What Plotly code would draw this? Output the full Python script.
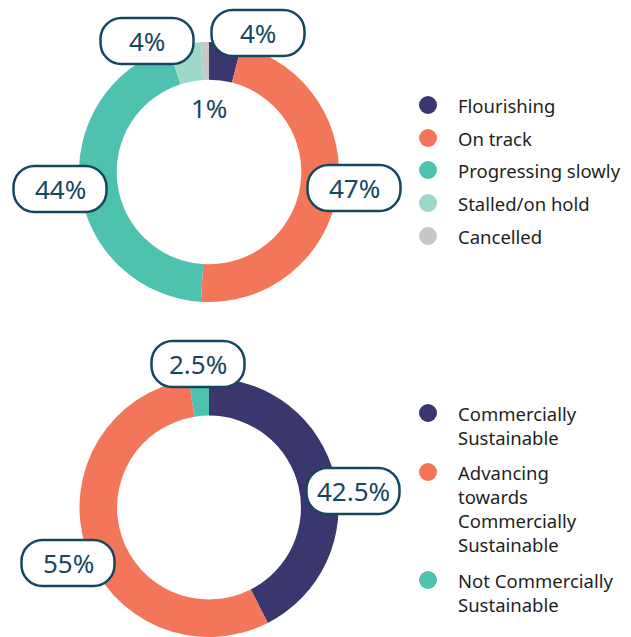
import plotly.graph_objects as go

# 项目进展状态（上图）
status_labels = ["Flourishing", "On track", "Progressing slowly", "Stalled/on hold", "Cancelled"]
status_values = [4, 47, 44, 4, 1]
status_colors = ["#39376D", "#F3765A", "#4EC2AE", "#9DD9C9", "#C6C7C9"]

# 商业可持续性（下图）
sust_labels = [
    "Commercially<br>Sustainable",
    "Advancing<br>towards<br>Commercially<br>Sustainable",
    "Not Commercially<br>Sustainable",
]
sust_values = [42.5, 55, 2.5]
sust_colors = ["#39376D", "#F3765A", "#4EC2AE"]

# 页面 body 默认有 8px 外边距，图尺寸相应缩小
PAGE_MARGIN = 8
W, H = 631 - PAGE_MARGIN, 637 - PAGE_MARGIN
LABEL_COLOR = "#17475F"
TEXT_COLOR = "#1F1F1F"
FONT = "Noto Sans"

# 布局：圆心（窗口像素）、标签偏移（像素，相对圆心，向下为正）、是否带框
top_center = (209, 172)
top_label_pos = [(49, -139, True), (145, 16, True), (-149, 17, True), (-62, -131, True), (0, -64, False)]
top_legend_dy = [-67, -34, -2, 31, 64]

bot_center = (209, 508)
bot_label_pos = [(144, -17, True), (-141, 55, True), (-11, -144, True)]
bot_legend_dy = [-95, -36, 72]

R_OUT = 130
HOLE = 0.71


def fmt_pct(v):
    return f"{v:g}%"


def pill_path(cx, cy, w=93, h=46, r=21):
    """圆角胶囊框路径（像素坐标，y 向上）"""
    x0, x1 = cx - w / 2, cx + w / 2
    y0, y1 = cy - h / 2, cy + h / 2
    k = 0.5523 * r
    return (
        f"M{x0 + r},{y0} L{x1 - r},{y0} "
        f"C{x1 - r + k},{y0} {x1},{y0 + r - k} {x1},{y0 + r} "
        f"L{x1},{y1 - r} "
        f"C{x1},{y1 - r + k} {x1 - r + k},{y1} {x1 - r},{y1} "
        f"L{x0 + r},{y1} "
        f"C{x0 + r - k},{y1} {x0},{y1 - r + k} {x0},{y1 - r} "
        f"L{x0},{y0 + r} "
        f"C{x0},{y0 + r - k} {x0 + r - k},{y0} {x0 + r},{y0} Z"
    )


def px_to_paper(px, py):
    return (px - PAGE_MARGIN) / W, 1 - (py - PAGE_MARGIN) / H


def domain_for(center):
    cx, cy = center
    x0, y1 = px_to_paper(cx - R_OUT, cy - R_OUT)
    x1, y0 = px_to_paper(cx + R_OUT, cy + R_OUT)
    return dict(x=[max(x0, 0), min(x1, 1)], y=[max(y0, 0), min(y1, 1)])


fig = go.Figure()

for labels, values, colors, center in [
    (status_labels, status_values, status_colors, top_center),
    (sust_labels, sust_values, sust_colors, bot_center),
]:
    fig.add_trace(go.Pie(
        labels=labels,
        values=values,
        marker=dict(colors=colors, line=dict(width=0)),
        hole=HOLE,
        sort=False,
        direction="clockwise",
        rotation=0,
        textinfo="none",
        showlegend=False,
        domain=domain_for(center),
    ))

shapes = []
annotations = []


def add_labels(values, positions, center):
    ax, ay = px_to_paper(*center)
    for v, (dx, dy, boxed) in zip(values, positions):
        if boxed:
            shapes.append(dict(
                type="path",
                xref="paper", yref="paper",
                xsizemode="pixel", ysizemode="pixel",
                xanchor=ax, yanchor=ay,
                path=pill_path(dx, -dy),
                fillcolor="white",
                line=dict(color=LABEL_COLOR, width=2.5),
                layer="above",
            ))
        annotations.append(dict(
            x=ax, y=ay, xref="paper", yref="paper",
            xshift=dx, yshift=-dy,
            text=fmt_pct(v), showarrow=False,
            font=dict(family=FONT, size=26, color=LABEL_COLOR),
            xanchor="center", yanchor="middle",
        ))


def add_legend(labels, colors, dys, center, font_size=18.5):
    ax, ay = px_to_paper(*center)
    line_h = 1.3 * font_size
    for lab, col, dy in zip(labels, colors, dys):
        shapes.append(dict(
            type="circle",
            xref="paper", yref="paper",
            xsizemode="pixel", ysizemode="pixel",
            xanchor=ax, yanchor=ay,
            x0=219 - 9, x1=219 + 9, y0=-dy - 9, y1=-dy + 9,
            fillcolor=col, line=dict(width=0),
        ))
        n = lab.count("<br>") + 1
        annotations.append(dict(
            x=ax, y=ay, xref="paper", yref="paper",
            xshift=247, yshift=-(dy + (n - 1) * line_h / 2),
            text=lab, showarrow=False, align="left",
            font=dict(family=FONT, size=font_size, color=TEXT_COLOR),
            xanchor="left", yanchor="middle",
        ))


add_labels(status_values, top_label_pos, top_center)
add_labels(sust_values, bot_label_pos, bot_center)
add_legend(status_labels, status_colors, top_legend_dy, top_center)
add_legend(sust_labels, sust_colors, bot_legend_dy, bot_center)

fig.update_layout(
    width=W,
    height=H,
    margin=dict(l=0, r=0, t=0, b=0),
    paper_bgcolor="white",
    plot_bgcolor="white",
    shapes=shapes,
    annotations=annotations,
)

fig.write_html("out.html")
